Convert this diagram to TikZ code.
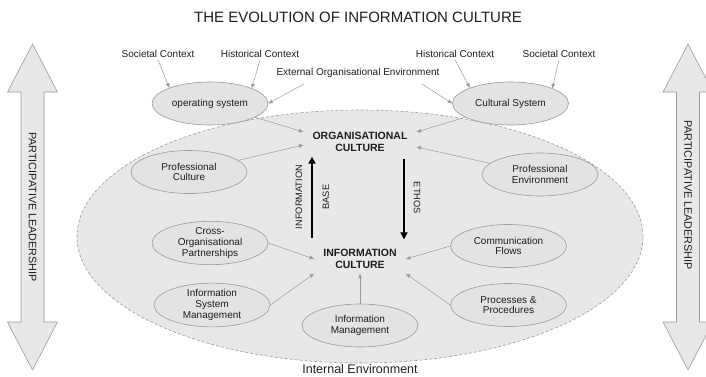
\documentclass[tikz,border=0pt]{standalone}
\usepackage{fontspec}
\setmainfont{Liberation Sans}
\usepackage{tikz}
\usetikzlibrary{arrows.meta, positioning, shapes.geometric}
\definecolor{envFill}{HTML}{E8E8E8}
\definecolor{topicFill}{HTML}{E3E3E3}
\definecolor{edgeGrey}{HTML}{9A9A9A}
\definecolor{inkDark}{HTML}{1E1E1E}

\tikzset{
  topic/.style={ellipse, draw=edgeGrey, fill=topicFill, line width=0.6pt,
    minimum width=116pt, minimum height=43pt, inner sep=0pt, align=center,
    text=inkDark, font=\fontsize{10}{10.8}\selectfont},
  core/.style={align=center, font=\fontsize{10.5}{11.5}\selectfont\bfseries,
    text=inkDark, inner xsep=9pt, inner ysep=5pt},
  context/.style={font=\fontsize{10}{12}\selectfont, text=inkDark, inner sep=2pt},
  vlabel/.style={font=\fontsize{9.3}{11}\selectfont, text=inkDark, inner sep=1pt},
  feed/.style={draw=edgeGrey, line width=0.5pt, -{Triangle[length=4.5pt,width=3.5pt]}},
  flow/.style={line width=2.6pt, -{Triangle[length=7pt,width=7pt]}},
  envelope/.style={ellipse, draw=edgeGrey, fill=envFill, line width=0.6pt,
    dash pattern=on 3pt off 2pt, minimum width=566pt, minimum height=253pt, inner sep=0pt},
  leadarrow/.style={draw=edgeGrey, fill=envFill, line width=0.6pt},
  sidelabel/.style={rotate=-90, font=\fontsize{10.8}{13}\selectfont, text=inkDark}
}

\begin{document}
\begin{tikzpicture}[x=1pt, y=-1pt]
  \useasboundingbox (0,0) rectangle (706,376);

  % participative leadership, both sides
  \foreach \cx/\cy/\side in {32.5/207/left, 688/195/right} {
    \draw[leadarrow] (\cx,44) -- (\cx+25,92) -- (\cx+11.5,92) -- (\cx+11.5,322)
      -- (\cx+25,322) -- (\cx,370) -- (\cx-25,322) -- (\cx-11.5,322)
      -- (\cx-11.5,92) -- (\cx-25,92) -- cycle;
    \node[sidelabel] (lead\side) at (\cx,\cy) {PARTICIPATIVE LEADERSHIP};
  }

  \node[font=\fontsize{15}{18}\selectfont, text=inkDark] (title) at (358,17)
    {THE EVOLUTION OF INFORMATION CULTURE};

  % internal environment
  \node[envelope] (env) at (360,236.5) {};
  \node[font=\fontsize{12.5}{14}\selectfont, text=inkDark, inner sep=1pt,
    below=0pt of env] (intenv) {Internal Environment};

  % external context
  \node[context] (socL) at (158,54) {Societal Context};
  \node[context] (histL) at (260,54) {Historical Context};
  \node[context] (histR) at (455,54) {Historical Context};
  \node[context] (socR) at (559,54) {Societal Context};
  \node[context] (extenv) at (358,73) {External Organisational Environment};

  \node[topic] (opsys) at (210,103.5) {operating system};
  \node[topic] (cultsys) at (510.5,103.5) {Cultural System};
  \node[topic] (profcult) at (189,172) {Professional\\Culture};
  \node[topic] (profenv) at (540,174.5) {Professional\\Environment};
  \node[topic] (crossorg) at (210,243) {Cross-\\Organisational\\Partnerships};
  \node[topic] (commflow) at (508.5,246) {Communication\\Flows};
  \node[topic] (infosys) at (212,305) {Information\\System\\Management};
  \node[topic] (procs) at (508.5,305) {Processes \&\\Procedures};
  \node[topic] (infomgmt) at (360,325.5) {Information\\Management};

  % the two cultures
  \node[core] (orgcult) at (360,142) {ORGANISATIONAL\\CULTURE};
  \node[core] (infocult) at (360,259) {INFORMATION\\CULTURE};

  \draw[flow, shorten <=6pt] ([xshift=-48pt]infocult.north) -- ([xshift=-48pt]orgcult.south);
  \draw[flow, shorten <=2pt, shorten >=5pt] ([xshift=44pt]orgcult.south) -- ([xshift=44pt]infocult.north);
  \node[vlabel, rotate=90] (infolbl) at (299,197) {INFORMATION};
  \node[vlabel, rotate=90] (baselbl) at (326,197) {BASE};
  \node[vlabel, rotate=-90] (ethoslbl) at (417,198) {ETHOS};

  \draw[feed] (socL.south) -- (opsys.159);
  \draw[feed] (histL.south) -- (opsys.20);
  \draw[feed] ([xshift=-54pt,yshift=-4pt]extenv.south) -- (opsys.east);
  \draw[feed] ([xshift=64pt,yshift=-4pt]extenv.south) -- (cultsys.west);
  \draw[feed] (histR.south) -- (cultsys.159);
  \draw[feed] (socR.south) -- (cultsys.20);

  \draw[feed] (opsys) -- ([yshift=10pt]orgcult.west);
  \draw[feed] (profcult) -- ([yshift=-3pt]orgcult.west);
  \draw[feed] (cultsys) -- ([yshift=10pt]orgcult.east);
  \draw[feed] (profenv) -- ([yshift=-5pt]orgcult.east);

  \draw[feed] (crossorg.east) -- (infocult.west);
  \draw[feed] (commflow.west) -- (infocult.east);
  \draw[feed] (infosys.east) -- (infocult.south west);
  \draw[feed] (procs.west) -- (infocult.south east);
  \draw[feed] (infomgmt) -- (infocult.south);
\end{tikzpicture}
\end{document}
